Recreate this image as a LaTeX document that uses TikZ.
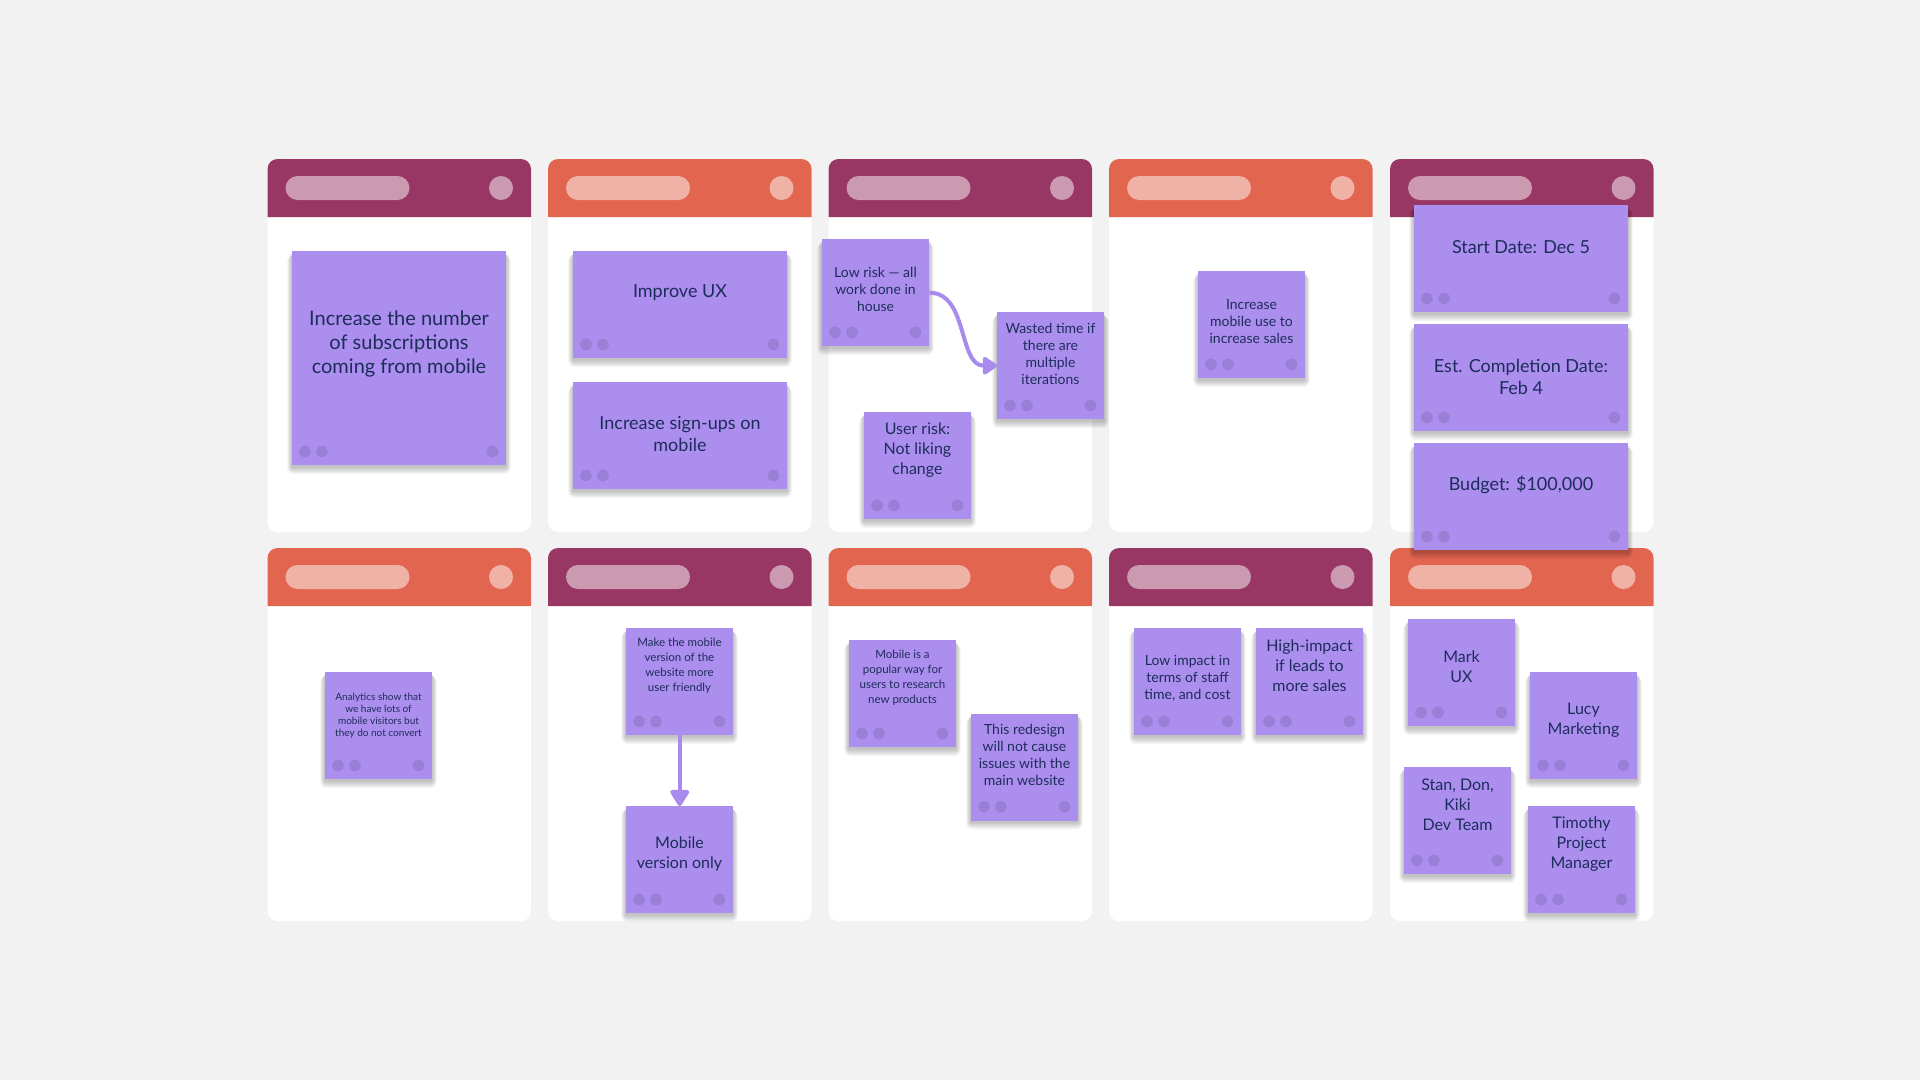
\documentclass[tikz,border=0pt]{standalone}
\usepackage{fontspec}
\setmainfont{Lato}
\usetikzlibrary{arrows.meta}
\definecolor{bgc}{HTML}{F2F2F2}
\definecolor{maroonc}{HTML}{983664}
\definecolor{coralc}{HTML}{E26550}
\definecolor{stickyc}{HTML}{AC8EEE}
\definecolor{dotc}{HTML}{9A7FD6}
\definecolor{txtc}{HTML}{1D2D5B}
\definecolor{linec}{HTML}{A98BEE}
\tikzset{
  stickybox/.style={fill=stickyc, inner sep=0pt, anchor=north west},
  shade/.style={fill=black, opacity=0.035},
  txt/.style={text=txtc, align=center, inner sep=0pt},
  fA/.style={font=\fontsize{20}{24}\selectfont},
  fB/.style={font=\fontsize{18}{22}\selectfont},
  fC/.style={font=\fontsize{16}{20}\selectfont},
  fD/.style={font=\fontsize{14}{17}\selectfont},
  fE/.style={font=\fontsize{11.5}{15}\selectfont},
  fF/.style={font=\fontsize{10}{12}\selectfont},
  conn/.style={draw=linec, line width=4pt, -{Triangle[round,length=16pt,width=20pt]}},
}
\newcommand\mypanel[3]{%
  \fill[white, rounded corners=10pt] (#1,#2) rectangle ++(263.5,373);
  \fill[#3] (#1,#2+58) [rounded corners=10pt] -- (#1,#2) -- (#1+263.5,#2) [sharp corners] -- (#1+263.5,#2+58) -- cycle;
  \fill[white, opacity=.5, rounded corners=12pt] (#1+18,#2+17) rectangle ++(124,24);
  \fill[white, opacity=.5] (#1+233.5,#2+29) circle (12pt);
}
% name, x, y, w, h
\newcommand\sticky[5]{%
  \foreach \k in {1,...,7}{
    \fill[shade, rounded corners=\k pt] (#2-\k*0.7,#3+2+\k*0.3) rectangle (#2+#4+\k*0.7,#3+#5+1.5+\k*1.1);
  }
  \node[stickybox, minimum width=#4pt, minimum height=#5pt] (#1) at (#2,#3) {};
  \fill[dotc] ([xshift=13pt,yshift=14pt]#1.south west) circle (5.8pt);
  \fill[dotc] ([xshift=30pt,yshift=14pt]#1.south west) circle (5.8pt);
  \fill[dotc] ([xshift=-14pt,yshift=14pt]#1.south east) circle (5.8pt);
}
\begin{document}
\begin{tikzpicture}[x=1pt,y=-1pt]
\useasboundingbox (0,0) rectangle (1920,1080);
\fill[bgc] (0,0) rectangle (1920,1080);
% panels row 1
\mypanel{267.5}{159}{maroonc}
\mypanel{548}{159}{coralc}
\mypanel{828.5}{159}{maroonc}
\mypanel{1109}{159}{coralc}
\mypanel{1390}{159}{maroonc}
% panels row 2
\mypanel{267.5}{548}{coralc}
\mypanel{548}{548}{maroonc}
\mypanel{828.5}{548}{coralc}
\mypanel{1109}{548}{maroonc}
\mypanel{1390}{548}{coralc}
% stickies row 1
\sticky{s1}{292}{251}{214}{214}
\node[txt,fA] (s1t) at (399,344) {Increase the number\\of subscriptions\\coming from mobile};
\sticky{s2}{573}{251}{214}{107}
\node[txt,fB] (s2t) at (680,292.3) {Improve UX};
\sticky{s3}{573}{382}{214}{107}
\node[txt,fB] (s3t) at (680,434.3) {Increase sign-ups on\\mobile};
\sticky{s4}{822}{239}{107}{107}
\node[txt,fD] (s4t) at (875.5,289.3) {Low risk — all\\work done in\\house};
\sticky{s5}{997}{312}{107}{107}
\node[txt,fD] (s5t) at (1050.5,354) {Wasted time if\\there are\\multiple\\iterations};
\sticky{s6}{864}{412}{107}{107}
\node[txt,fC] (s6t) at (917.5,450) {User risk:\\Not liking\\change};
\sticky{s7}{1198}{271}{107}{107}
\node[txt,fD] (s7t) at (1251.5,321.7) {Increase\\mobile use to\\increase sales};
\sticky{s8}{1414}{205}{214}{107}
\node[txt,fB] (s8t) at (1521,246.7) {Start Date: Dec 5};
\sticky{s9}{1414}{324}{214}{107}
\node[txt,fB] (s9t) at (1521,377) {Est. Completion Date:\\Feb 4};
\sticky{s10}{1414}{443}{214}{107}
\node[txt,fB] (s10t) at (1521,484.3) {Budget: \$100,000};
% stickies row 2
\sticky{s11}{325}{672}{107}{107}
\node[txt,fF] (s11t) at (378.5,715.7) {Analytics show that\\we have lots of\\mobile visitors but\\they do not convert};
\sticky{s12}{626}{628}{107}{107}
\node[txt,fE] (s12t) at (679.5,665.5) {Make the mobile\\version of the\\website more\\user friendly};
\sticky{s13}{626}{806}{107}{107}
\node[txt,fC] (s13t) at (679.5,854) {Mobile\\version only};
\sticky{s14}{849}{640}{107}{107}
\node[txt,fE] (s14t) at (902.5,677.5) {Mobile is a\\popular way for\\users to research\\new products};
\sticky{s15}{971}{713.3}{107}{107}
\node[txt,fD] (s15t) at (1024.5,754.8) {This redesign\\will not cause\\issues with the\\main website};
\sticky{s16}{1134}{628}{107}{107}
\node[txt,fD] (s16t) at (1187.5,678.3) {Low impact in\\terms of staff\\time, and cost};
\sticky{s17}{1256}{628}{107}{107}
\node[txt,fC] (s17t) at (1309.5,666) {High-impact\\if leads to\\more sales};
\sticky{s18}{1408}{619}{107}{107}
\node[txt,fC] (s18t) at (1461.5,666.5) {Mark\\UX};
\sticky{s19}{1530}{672}{107}{107}
\node[txt,fC] (s19t) at (1583.5,720) {Lucy\\Marketing};
\sticky{s20}{1404}{767}{107}{107}
\node[txt,fC] (s20t) at (1457.5,805) {Stan, Don,\\Kiki\\Dev Team};
\sticky{s21}{1528}{806}{107}{107}
\node[txt,fC] (s21t) at (1581.5,844) {Timothy\\Project\\Manager};
% connectors
\draw[conn] (s4.east) to[out=0,in=180] (s5.west);
\draw[conn,-{Triangle[round,length=18pt,width=21pt]}] (s12.south) -- (s13.north);
\end{tikzpicture}
\end{document}
